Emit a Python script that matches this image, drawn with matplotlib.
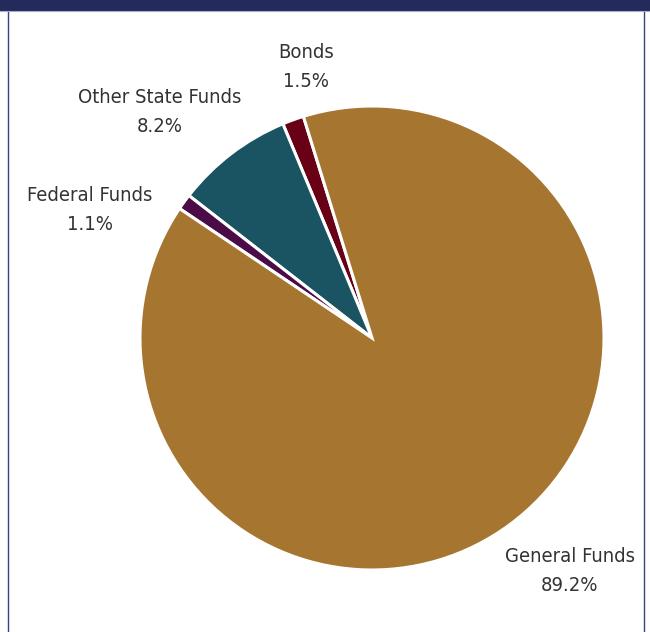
import matplotlib.pyplot as plt
from matplotlib.patches import Rectangle

# Funding sources, listed counter-clockwise from the top
sources = ["Bonds", "Other State Funds", "Federal Funds", "General Funds"]
shares = [1.5, 8.2, 1.1, 89.2]
colors = ["#680016", "#1A5462", "#4B0B46", "#A67530"]

# where each two-line label sits (pixel coords, y from top)
label_pos = [(306, 67), (160, 112), (90, 210), (570, 571)]

W, H = 650, 632
fig = plt.figure(figsize=(W / 100, H / 100), dpi=100)
ax = fig.add_axes([0, 0, 1, 1])

# page frame: navy band on top, thin side rules
ax.add_patch(Rectangle((0, H - 10), W, 10, color="#232A5C", zorder=5))
ax.plot([0, W], [H - 10.5, H - 10.5], color="#A9AECB", lw=0.8, zorder=5)
ax.plot([7.5, 7.5], [0, H - 10], color="#3A4080", lw=1.0)
ax.plot([643.5, 643.5], [0, H - 10], color="#3A4080", lw=1.0)

ax.pie(shares, colors=colors, startangle=107.2, counterclock=True,
       center=(372, H - 338), radius=232, frame=True,
       wedgeprops=dict(edgecolor="white", linewidth=2.2))
ax.set_xlim(0, W)
ax.set_ylim(0, H)
ax.set_aspect("equal")
ax.axis("off")

for name, val, (x, y) in zip(sources, shares, label_pos):
    ax.text(x, H - y, f"{name}\n{val:.1f}%", ha="center", va="center",
            fontsize=14.5, color="#333333", linespacing=1.72,
            family="DejaVu Sans", fontstretch="condensed")

fig.savefig("out.png", dpi=100)
